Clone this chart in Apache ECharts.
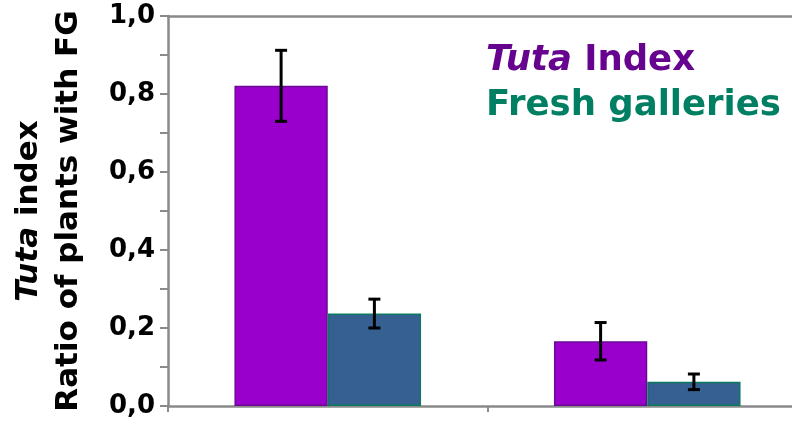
<!DOCTYPE html>
<html>
<head>
<meta charset="utf-8">
<script src="https://cdn.jsdelivr.net/npm/echarts@6/dist/echarts.min.js"></script>
<style>
  html, body { margin: 0; padding: 0; background: #ffffff; }
  #chart { width: 792px; height: 428px; }
</style>
</head>
<body>
<div id="chart"></div>
<script>
// Two sampling groups, two measures per group
const groups = ['Group 1', 'Group 2'];
const tutaIndex = [0.821, 0.166];
const tutaErr = [0.091, 0.048];
const freshGalleries = [0.237, 0.062];
const freshErr = [0.037, 0.020];
const yTicks = [0, 0.2, 0.4, 0.6, 0.8, 1.0];

const seriesNames = ['Tuta Index', 'Fresh galleries'];
const FONT = '"DejaVu Sans", sans-serif';
const AXIS_GRAY = '#8a8a8a';
// bars take 29.2% of a band each, side by side
const BAR_FRAC = 0.292;

function errData(vals, errs) {
  return vals.map((v, i) => [i, v - errs[i], v + errs[i]]);
}

function errorBars(side) {
  return function (params, api) {
    const band = api.size([1, 0])[0];
    const cx = api.coord([api.value(0), 0])[0] + side * band * BAR_FRAC / 2;
    const yLo = api.coord([api.value(0), api.value(1)])[1];
    const yHi = api.coord([api.value(0), api.value(2)])[1];
    const cap = 6;
    const style = { stroke: '#000000', lineWidth: 3 };
    return {
      type: 'group',
      children: [
        { type: 'line', shape: { x1: cx, y1: yLo, x2: cx, y2: yHi }, style: style },
        { type: 'line', shape: { x1: cx - cap, y1: yHi, x2: cx + cap, y2: yHi }, style: style },
        { type: 'line', shape: { x1: cx - cap, y1: yLo, x2: cx + cap, y2: yLo }, style: style }
      ]
    };
  };
}

const chart = echarts.init(document.getElementById('chart'), null, { renderer: 'canvas' });

chart.setOption({
  animation: false,
  backgroundColor: '#ffffff',
  grid: { left: 168, right: -15, top: 16, bottom: 22, containLabel: false, outerBoundsMode: 'none' },
  legend: {
    orient: 'vertical',
    left: 476,
    top: 36,
    itemWidth: 0,
    itemHeight: 0,
    itemGap: 5,
    icon: 'none',
    selectedMode: false,
    data: [
      { name: seriesNames[0], textStyle: { color: '#66038f' } },
      { name: seriesNames[1], textStyle: { color: '#007f62' } }
    ],
    formatter: function (name) {
      return name === seriesNames[0] ? '{i|Tuta} Index' : name;
    },
    textStyle: {
      fontFamily: FONT,
      fontWeight: 'bold',
      fontSize: 35.5,
      lineHeight: 40,
      rich: {
        i: { fontStyle: 'italic', fontWeight: 'bold', fontFamily: FONT, fontSize: 35.5 }
      }
    }
  },
  xAxis: [
    {
      type: 'category',
      data: groups,
      position: 'bottom',
      axisLine: { lineStyle: { color: AXIS_GRAY, width: 2.5 } },
      axisTick: { show: true, length: 6, lineStyle: { color: AXIS_GRAY, width: 2 } },
      axisLabel: { show: false },
      splitLine: { show: false }
    },
    {
      type: 'value',
      position: 'top',
      min: 0,
      max: 1,
      axisLine: { show: true, lineStyle: { color: AXIS_GRAY, width: 2.5 } },
      axisTick: { show: false },
      axisLabel: { show: false },
      splitLine: { show: false }
    }
  ],
  yAxis: {
    type: 'value',
    min: 0,
    max: 1,
    interval: 0.1,
    axisLine: { show: true, lineStyle: { color: AXIS_GRAY, width: 2.5 } },
    axisTick: { show: true, length: 8, lineStyle: { color: AXIS_GRAY, width: 2 } },
    splitLine: { show: false },
    axisLabel: {
      margin: 13,
      fontFamily: FONT,
      fontWeight: 'bold',
      fontSize: 26,
      color: '#000000',
      formatter: function (v) {
        const hit = yTicks.find(t => Math.abs(t - v) < 1e-6);
        return hit === undefined ? '' : hit.toFixed(1).replace('.', ',');
      }
    },
    name: '{i|Tuta} {b|index}\n{b|Ratio of plants with FG}',
    nameLocation: 'middle',
    nameGap: 79,
    nameRotate: 90,
    nameTextStyle: {
      color: '#000000',
      fontFamily: FONT,
      fontWeight: 'bold',
      fontSize: 31,
      lineHeight: 40,
      align: 'center',
      rich: {
        i: { fontStyle: 'italic', fontWeight: 'bold', fontFamily: FONT, fontSize: 31, lineHeight: 40, color: '#000000' },
        b: { fontWeight: 'bold', fontFamily: FONT, fontSize: 31, lineHeight: 40, color: '#000000' }
      }
    }
  },
  series: [
    {
      name: seriesNames[0],
      type: 'bar',
      data: tutaIndex,
      barGap: '0%',
      barCategoryGap: '41.6%',
      itemStyle: { color: '#9900cc', borderColor: '#6c0a96', borderWidth: 1.5 }
    },
    {
      name: seriesNames[1],
      type: 'bar',
      data: freshGalleries,
      barGap: '0%',
      barCategoryGap: '41.6%',
      itemStyle: { color: '#376092', borderColor: '#0a7a5c', borderWidth: 1.5 }
    },
    {
      type: 'custom',
      data: errData(tutaIndex, tutaErr),
      renderItem: errorBars(-1),
      encode: { x: 0, y: [1, 2] },
      z: 10,
      silent: true
    },
    {
      type: 'custom',
      data: errData(freshGalleries, freshErr),
      renderItem: errorBars(1),
      encode: { x: 0, y: [1, 2] },
      z: 10,
      silent: true
    }
  ]
});
</script>
</body>
</html>
